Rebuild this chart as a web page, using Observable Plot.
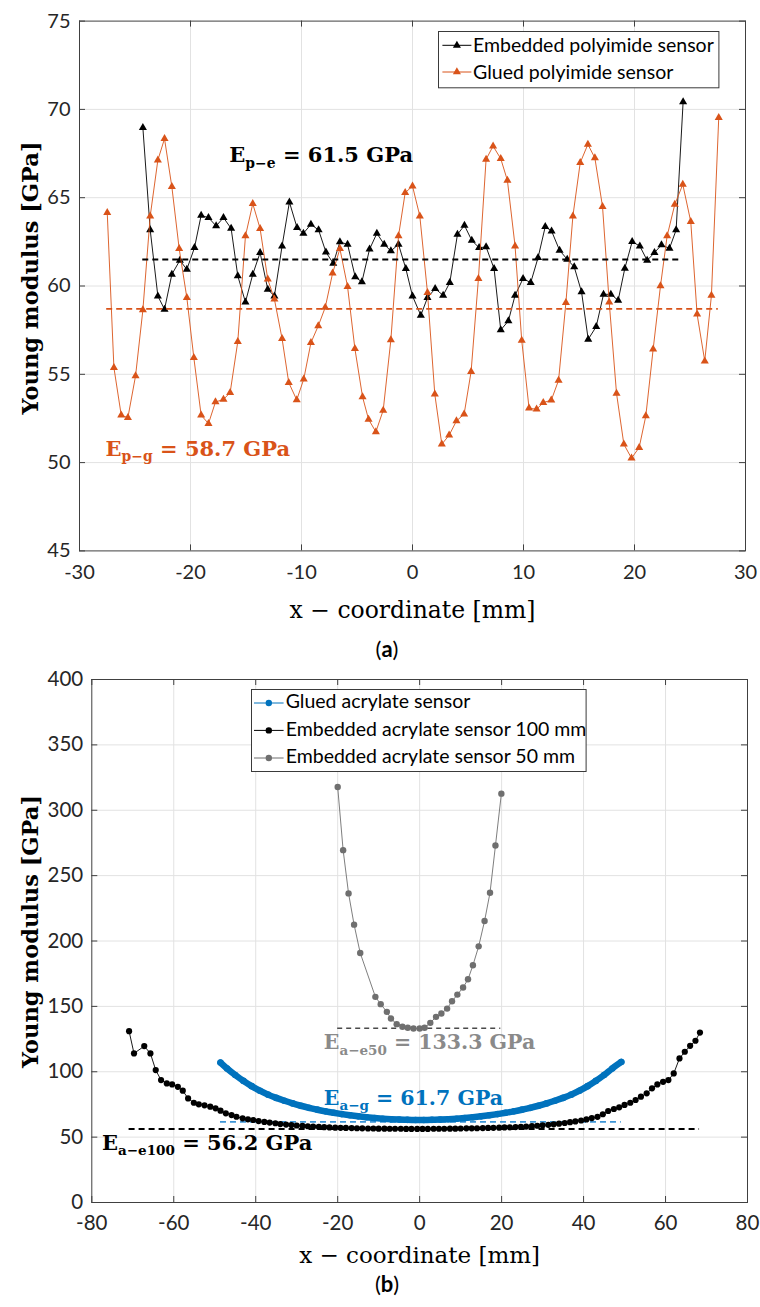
<!DOCTYPE html>
<html><head><meta charset="utf-8">
<script src="https://cdn.jsdelivr.net/npm/d3@7"></script>
<script src="https://cdn.jsdelivr.net/npm/@observablehq/plot@0.6"></script>
<style>
html,body{margin:0;padding:0;background:#fff;}
#root{position:relative;width:760px;height:1307px;overflow:hidden;background:#fff;}
#root > svg{position:absolute;left:0;}
.cap{position:absolute;font-family:Lato,sans-serif;font-size:22px;color:#000;transform:translate(-50%,-50%);white-space:nowrap;}
</style></head><body><div id="root"></div>
<script>
// ---------------- DATA ----------------
// Panel (a): x-coordinate [mm], Young modulus [GPa]
const xTicksA = [-30, -20, -10, 0, 10, 20, 30];
const yTicksA = [45, 50, 55, 60, 65, 70, 75];
const seriesNamesA = ["Embedded polyimide sensor", "Glued polyimide sensor"];
const embeddedPolyimide = [[-24.29,68.96],[-23.63,63.17],[-22.94,59.43],[-22.34,58.68],[-21.68,60.66],[-20.96,61.45],[-20.33,60.94],[-19.64,62.17],[-19.04,64.0],[-18.38,63.87],[-17.69,63.4],[-17.03,63.87],[-16.34,63.26],[-15.74,60.57],[-15.05,59.09],[-14.39,60.66],[-13.73,61.89],[-13.04,59.81],[-12.44,59.43],[-11.75,62.26],[-11.09,64.75],[-10.4,63.3],[-9.83,62.98],[-9.15,63.49],[-8.46,63.17],[-7.8,61.92],[-7.14,61.28],[-6.54,62.49],[-5.85,62.36],[-5.16,60.51],[-4.56,60.23],[-3.87,62.08],[-3.21,62.98],[-2.55,62.36],[-1.95,61.98],[-1.26,62.36],[-0.6,60.98],[0.0,59.43],[0.75,58.34],[1.35,59.34],[2.04,59.85],[2.76,59.47],[3.36,60.19],[4.05,62.92],[4.68,63.43],[5.34,62.58],[6.0,62.17],[6.63,62.21],[7.35,60.98],[7.95,57.51],[8.64,58.02],[9.24,59.47],[9.96,60.42],[10.65,60.19],[11.31,61.6],[11.96,63.36],[12.53,63.11],[13.25,62.02],[13.94,61.51],[14.57,61.08],[15.23,59.66],[15.83,56.98],[16.55,57.7],[17.21,59.53],[17.87,59.53],[18.53,59.19],[19.13,61.0],[19.79,62.51],[20.48,62.26],[21.14,61.45],[21.8,61.89],[22.43,62.32],[23.15,62.13],[23.75,63.17],[24.38,70.42]];
const gluedPolyimide = [[-27.5,64.15],[-26.9,55.38],[-26.24,52.68],[-25.64,52.55],[-24.95,54.91],[-24.29,58.64],[-23.63,63.96],[-22.94,67.13],[-22.34,68.34],[-21.68,65.62],[-21.02,62.11],[-20.33,59.34],[-19.7,55.94],[-19.04,52.68],[-18.38,52.21],[-17.75,53.43],[-17.03,53.58],[-16.43,53.96],[-15.74,56.85],[-15.05,62.83],[-14.39,64.66],[-13.73,63.25],[-13.04,60.38],[-12.44,59.25],[-11.75,57.02],[-11.15,54.53],[-10.43,53.55],[-9.8,54.72],[-9.15,56.79],[-8.49,57.74],[-7.86,58.79],[-7.2,60.72],[-6.54,62.11],[-5.85,59.96],[-5.19,56.45],[-4.5,53.72],[-3.96,52.45],[-3.3,51.74],[-2.64,52.96],[-1.95,56.94],[-1.26,62.83],[-0.66,65.28],[0.0,65.66],[0.66,63.96],[1.35,59.62],[2.01,53.87],[2.64,51.04],[3.3,51.55],[3.96,52.36],[4.65,52.74],[5.28,55.15],[5.94,60.42],[6.63,67.17],[7.26,67.92],[7.95,67.21],[8.55,65.98],[9.24,62.26],[9.84,56.92],[10.5,53.08],[11.18,53.02],[11.78,53.4],[12.5,53.53],[13.16,54.66],[13.82,59.06],[14.45,63.96],[15.11,66.98],[15.8,68.02],[16.43,67.25],[17.12,64.49],[17.72,59.09],[18.38,53.92],[19.04,51.04],[19.73,50.25],[20.42,50.85],[21.02,52.64],[21.68,56.42],[22.34,60.0],[22.94,62.83],[23.63,64.62],[24.35,65.75],[25.07,63.64],[25.64,58.4],[26.33,55.75],[26.93,59.47],[27.59,69.53]];
const meanValuesA = [61.5, 58.7];
const meanRangesA = [[-24.3, 24.0], [-27.55, 27.55]];
const annotationsA = [
  {base: "E", sub: "p\u2212e", rest: " = 61.5 GPa", x: -16.5, y: 67.0},
  {base: "E", sub: "p\u2212g", rest: " = 58.7 GPa", x: -27.65, y: 50.4}
];

// Panel (b)
const xTicksB = [-80, -60, -40, -20, 0, 20, 40, 60, 80];
const yTicksB = [0, 50, 100, 150, 200, 250, 300, 350, 400];
const seriesNamesB = ["Glued acrylate sensor", "Embedded acrylate sensor 100 mm", "Embedded acrylate sensor 50 mm"];
const gluedAcrylate = [[-48.6,107.0],[-47,102.5],[-45,97.5],[-43,93.0],[-41,89.0],[-39,85.5],[-37,82.5],[-35,80.0],[-33,77.8],[-31,75.8],[-29,74.0],[-27,72.4],[-25,71.0],[-23,69.7],[-21,68.6],[-19,67.6],[-17,66.7],[-15,65.9],[-13,65.2],[-11,64.6],[-9,64.1],[-7,63.7],[-5,63.4],[-3,63.2],[-1,63.1],[1,63.1],[3,63.2],[5,63.4],[7,63.7],[9,64.1],[11,64.6],[13,65.2],[15,65.9],[17,66.7],[19,67.6],[21,68.6],[23,69.7],[25,71.0],[27,72.4],[29,74.0],[31,75.8],[33,77.8],[35,80.0],[37,82.5],[39,85.5],[41,89.0],[43,93.0],[45,97.5],[47,102.5],[49.2,107.5]];
const embeddedAcrylate100 = [[-70.9,131.0],[-69.7,114.0],[-67.2,119.6],[-65.7,114.0],[-64.4,101.3],[-63.1,93.6],[-61.7,91.1],[-60.4,90.3],[-59.0,88.5],[-57.8,85.5],[-56.5,79.6],[-55.1,76.3],[-53.9,75.1],[-52.5,74.3],[-51.1,73.3],[-49.8,72.0],[-48.6,70.2],[-47.3,68.2],[-45.9,66.9],[-44.7,65.6],[-43.2,64.4],[-41.9,63.6],[-40.6,63.1],[-39.3,62.3],[-37.9,61.6],[-36.6,61.1],[-35.2,60.6],[-34.0,60.0],[-32.6,59.6],[-31.3,59.2],[-30.0,58.9],[-28.6,58.6],[-27.3,58.3],[-26.0,58.0],[-24.6,57.8],[-23.3,57.6],[-22.0,57.4],[-20.6,57.2],[-19.3,57.1],[-18.0,57.0],[-16.6,56.9],[-15.3,56.8],[-14.0,56.7],[-12.6,56.6],[-11.3,56.6],[-10.0,56.5],[-8.6,56.5],[-7.3,56.4],[-6.0,56.4],[-4.6,56.4],[-3.3,56.3],[-2.0,56.3],[-0.6,56.3],[0.7,56.3],[2.0,56.3],[3.4,56.4],[4.7,56.4],[6.0,56.4],[7.4,56.5],[8.7,56.5],[10.0,56.6],[11.4,56.7],[12.7,56.7],[14.0,56.8],[15.4,56.9],[16.7,57.0],[18.0,57.1],[19.4,57.2],[20.7,57.4],[22.0,57.5],[23.4,57.7],[24.7,57.9],[26.0,58.1],[27.4,58.4],[28.7,58.7],[30.0,59.0],[31.4,59.4],[32.7,59.8],[34.0,60.3],[35.4,60.8],[36.7,61.4],[38.0,62.0],[39.4,62.7],[40.7,63.5],[42.0,64.6],[43.4,65.5],[44.7,67.5],[46.0,70.0],[47.4,71.5],[48.7,72.8],[50.0,74.6],[51.4,76.3],[52.7,78.4],[54.0,80.9],[55.4,83.5],[56.7,87.3],[58.0,90.3],[59.4,92.3],[60.7,93.6],[62.0,98.7],[63.4,110.2],[64.7,115.3],[66.0,119.8],[67.3,123.7],[68.4,130.0]];
const embeddedAcrylate50 = [[-20.0,317.8],[-18.67,269.5],[-17.35,236.4],[-16.0,212.5],[-14.5,190.8],[-10.8,157.3],[-9.5,151.7],[-8.0,145.8],[-7.0,140.7],[-5.6,136.4],[-4.2,134.4],[-2.9,133.6],[-1.5,133.1],[0.0,133.1],[1.2,133.6],[2.6,137.4],[4.0,142.0],[5.3,144.5],[6.7,148.3],[7.9,153.9],[9.2,159.0],[10.6,164.4],[11.8,170.7],[13.0,181.4],[14.4,195.9],[15.84,215.3],[17.17,236.9],[18.5,273.0],[19.94,312.7]];
const meanValuesB = [61.7, 56.2, 133.3];
const meanRangesB = [[-48.6, 49.2], [-70.9, 68.3], [-20.0, 19.8]];
const annotationsB = [
  {base: "E", sub: "a\u2212g", rest: " = 61.7 GPa", x: -23.4, y: 74.6},
  {base: "E", sub: "a\u2212e100", rest: " = 56.2 GPa", x: -77.5, y: 40.2},
  {base: "E", sub: "a\u2212e50", rest: " = 133.3 GPa", x: -23.4, y: 117.3}
];
const yLabel = "Young modulus [GPa]";
const xLabel = "x \u2212 coordinate [mm]";
const captions = ["a", "b"];

// ---------------- STYLE ----------------
const ORANGE = "#D95319", BLUE = "#0072BD", GRAY = "#6f6f6f", BLACK = "#000000";
const AXIS = "#404040", GRID = "#e2e2e2", TICKTXT = "#262626";
const root = document.getElementById("root");
const X = d => d[0], Y = d => d[1];

function frameTicks(xt, yt, fw, fh) {
  const L = 6;
  return [
    Plot.ruleX(xt, {insetTop: fh - L, stroke: AXIS}),
    Plot.ruleX(xt, {insetBottom: fh - L, stroke: AXIS}),
    Plot.ruleY(yt, {insetRight: fw - L, stroke: AXIS}),
    Plot.ruleY(yt, {insetLeft: fw - L, stroke: AXIS})
  ];
}
function annotText(list, opts) {
  return Plot.text(list, {x: "x", y: "y", text: d => d.base + d.sub + d.rest, textAnchor: "start", lineAnchor: "bottom",
    fontFamily: "DejaVu Serif", fontWeight: "bold", ...opts});
}
function subscriptify(svg, list, fs) {
  const ns = "http://www.w3.org/2000/svg";
  const lookup = new Map(list.map(d => [d.base + d.sub + d.rest, d]));
  svg.querySelectorAll("text").forEach(t => {
    const d = lookup.get(t.textContent);
    if (!d) return;
    const size = d.fs || fs;
    t.textContent = "";
    const a = document.createElementNS(ns, "tspan"); a.textContent = d.base; t.appendChild(a);
    const b = document.createElementNS(ns, "tspan"); b.textContent = d.sub;
    b.setAttribute("font-size", (size * 0.66).toFixed(1)); b.setAttribute("dy", (size * 0.27).toFixed(1)); t.appendChild(b);
    const c = document.createElementNS(ns, "tspan"); c.textContent = d.rest;
    c.setAttribute("dy", (-size * 0.27).toFixed(1)); t.appendChild(c);
  });
}

// ---------------- PANEL A ----------------
{
  const W = 760, H = 665, mL = 79, mR = 15, mT = 20.6, mB = 114.6;
  const fw = W - mL - mR, fh = H - mT - mB;
  const svg = Plot.plot({
    width: W, height: H, marginLeft: mL, marginRight: mR, marginTop: mT, marginBottom: mB,
    style: {fontFamily: "Lato, sans-serif", fontSize: "20px", color: TICKTXT, background: "transparent", overflow: "visible"},
    x: {domain: [xTicksA[0], xTicksA[xTicksA.length - 1]], label: null},
    y: {domain: [yTicksA[0], yTicksA[yTicksA.length - 1]], label: null},
    marks: [
      Plot.ruleX(xTicksA.slice(1, -1), {stroke: GRID}),
      Plot.ruleY(yTicksA.slice(1, -1), {stroke: GRID}),
      Plot.line(embeddedPolyimide, {x: X, y: Y, stroke: BLACK, strokeWidth: 0.9}),
      Plot.dot(embeddedPolyimide, {x: X, y: Y, symbol: "triangle", r: 3.0, fill: BLACK, stroke: "none"}),
      Plot.line(gluedPolyimide, {x: X, y: Y, stroke: ORANGE, strokeWidth: 0.9}),
      Plot.dot(gluedPolyimide, {x: X, y: Y, symbol: "triangle", r: 3.0, fill: ORANGE, stroke: "none"}),
      Plot.ruleY([0], {y: () => meanValuesA[0], x1: () => meanRangesA[0][0], x2: () => meanRangesA[0][1], stroke: BLACK, strokeWidth: 1.8, strokeDasharray: "6,4"}),
      Plot.ruleY([0], {y: () => meanValuesA[1], x1: () => meanRangesA[1][0], x2: () => meanRangesA[1][1], stroke: ORANGE, strokeWidth: 1.8, strokeDasharray: "6,4"}),
      annotText([annotationsA[0]], {fill: BLACK, fontSize: 21}),
      annotText([annotationsA[1]], {fill: ORANGE, fontSize: 21}),
      Plot.frame({stroke: AXIS}),
      ...frameTicks(xTicksA, yTicksA, fw, fh),
      Plot.axisX({ticks: xTicksA, tickSize: 0, tickPadding: 14, tickFormat: d => String(d), label: null, fill: TICKTXT}),
      Plot.axisY({ticks: yTicksA, tickSize: 0, tickPadding: 9, tickFormat: d => String(d), label: null, fill: TICKTXT}),
      Plot.text([xLabel], {text: d => d, frameAnchor: "bottom", textAnchor: "middle", lineAnchor: "middle", dy: 59.6, fontFamily: "DejaVu Serif", fontSize: 23.5, fill: BLACK}),
      Plot.text([yLabel], {text: d => d, frameAnchor: "left", textAnchor: "middle", lineAnchor: "middle", rotate: -90, dx: -49, dy: -8, fontFamily: "DejaVu Serif", fontWeight: "bold", fontSize: 22.5, fill: BLACK})
    ]
  });
  svg.style.top = "0px";
  subscriptify(svg, annotationsA, 21);
  root.appendChild(svg);
}

// ---------------- PANEL B ----------------
{
  const W = 760, H = 642, mL = 91.3, mR = 13, mT = 14, mB = 105;
  const fw = W - mL - mR, fh = H - mT - mB;
  const svg = Plot.plot({
    width: W, height: H, marginLeft: mL, marginRight: mR, marginTop: mT, marginBottom: mB,
    style: {fontFamily: "Lato, sans-serif", fontSize: "20.5px", color: TICKTXT, background: "transparent", overflow: "visible"},
    x: {domain: [xTicksB[0], xTicksB[xTicksB.length - 1]], label: null},
    y: {domain: [yTicksB[0], yTicksB[yTicksB.length - 1]], label: null},
    marks: [
      Plot.ruleX(xTicksB.slice(1, -1), {stroke: GRID}),
      Plot.ruleY(yTicksB.slice(1, -1), {stroke: GRID}),
      Plot.ruleY([0], {y: () => meanValuesB[0], x1: () => meanRangesB[0][0], x2: () => meanRangesB[0][1], stroke: "#3d95d6", strokeWidth: 1.8, strokeDasharray: "6,4"}),
      Plot.line(gluedAcrylate, {x: X, y: Y, stroke: BLUE, strokeWidth: 6.5, strokeLinecap: "round", curve: "catmull-rom"}),
      Plot.dot(gluedAcrylate, {x: X, y: Y, r: 3.3, fill: BLUE, stroke: "none"}),
      Plot.ruleY([0], {y: () => meanValuesB[1], x1: () => meanRangesB[1][0], x2: () => meanRangesB[1][1], stroke: BLACK, strokeWidth: 1.8, strokeDasharray: "6,4"}),
      Plot.line(embeddedAcrylate100, {x: X, y: Y, stroke: BLACK, strokeWidth: 0.9}),
      Plot.dot(embeddedAcrylate100, {x: X, y: Y, r: 3.1, fill: BLACK, stroke: "none"}),
      Plot.ruleY([0], {y: () => meanValuesB[2], x1: () => meanRangesB[2][0], x2: () => meanRangesB[2][1], stroke: "#4a4a4a", strokeWidth: 1.6, strokeDasharray: "5,4"}),
      Plot.line(embeddedAcrylate50, {x: X, y: Y, stroke: GRAY, strokeWidth: 0.9}),
      Plot.dot(embeddedAcrylate50, {x: X, y: Y, r: 3.2, fill: GRAY, stroke: "none"}),
      annotText([annotationsB[0]], {fill: BLUE, fontSize: 20.5}),
      annotText([annotationsB[1]], {fill: BLACK, fontSize: 21}),
      annotText([annotationsB[2]], {fill: "#8a8a8a", fontSize: 20.5}),
      Plot.frame({stroke: AXIS}),
      ...frameTicks(xTicksB, yTicksB, fw, fh),
      Plot.axisX({ticks: xTicksB, tickSize: 0, tickPadding: 12.5, tickFormat: d => String(d), label: null, fill: TICKTXT}),
      Plot.axisY({ticks: yTicksB, tickSize: 0, tickPadding: 8.6, tickFormat: d => String(d), label: null, fill: TICKTXT}),
      Plot.text([xLabel], {text: d => d, frameAnchor: "bottom", textAnchor: "middle", lineAnchor: "middle", dy: 53, fontFamily: "DejaVu Serif", fontSize: 23, fill: BLACK}),
      Plot.text([yLabel], {text: d => d, frameAnchor: "left", textAnchor: "middle", lineAnchor: "middle", rotate: -90, dx: -61.3, dy: -9.5, fontFamily: "DejaVu Serif", fontWeight: "bold", fontSize: 22.5, fill: BLACK})
    ]
  });
  svg.style.top = "665px";
  subscriptify(svg, annotationsB.map((d, i) => d), 20.5);
  root.appendChild(svg);
}

// ---------------- LEGENDS ----------------
function makeLegend(cfg) {
  const svg = d3.create("svg").attr("width", cfg.w).attr("height", cfg.h)
    .style("position", "absolute").style("left", cfg.left + "px").style("top", cfg.top + "px").style("overflow", "visible");
  svg.append("rect").attr("x", 0.5).attr("y", 0.5).attr("width", cfg.w - 1).attr("height", cfg.h - 1)
    .attr("fill", "#fff").attr("stroke", "#3a3a3a").attr("stroke-width", 1);
  cfg.rows.forEach(r => {
    const g = svg.append("g");
    g.append("line").attr("x1", cfg.lx1).attr("x2", cfg.lx2).attr("y1", r.ly).attr("y2", r.ly).attr("stroke", r.color).attr("stroke-width", 1);
    const cx = (cfg.lx1 + cfg.lx2) / 2;
    if (r.symbol === "triangle") {
      g.append("path").attr("d", d3.symbol(d3.symbolTriangle, Math.PI * r.r * r.r)()).attr("transform", `translate(${cx},${r.ly})`).attr("fill", r.color);
    } else {
      g.append("circle").attr("cx", cx).attr("cy", r.ly).attr("r", r.r).attr("fill", r.color);
    }
    g.append("text").attr("x", cfg.tx).attr("y", r.by).text(r.label)
      .attr("font-family", "Lato, sans-serif").attr("font-size", cfg.fs).attr("fill", "#000");
  });
  root.appendChild(svg.node());
}
makeLegend({left: 437.6, top: 30.7, w: 281.4, h: 57.3, lx1: 4.4, lx2: 33.4, tx: 35, fs: 19.5, rows: [
  {label: seriesNamesA[0], color: BLACK, symbol: "triangle", r: 3.0, ly: 14.3, by: 21},
  {label: seriesNamesA[1], color: ORANGE, symbol: "triangle", r: 3.0, ly: 41, by: 47.6}
]});
makeLegend({left: 251, top: 689.3, w: 335.6, h: 83, lx1: 3, lx2: 32.6, tx: 34.7, fs: 19.5, rows: [
  {label: seriesNamesB[0], color: BLUE, symbol: "circle", r: 3.2, ly: 14, by: 19},
  {label: seriesNamesB[1], color: BLACK, symbol: "circle", r: 3.2, ly: 41.4, by: 46.7},
  {label: seriesNamesB[2], color: GRAY, symbol: "circle", r: 3.2, ly: 69, by: 74}
]});

// ---------------- CAPTIONS ----------------
[[648, captions[0]], [1283, captions[1]]].forEach(([top, c]) => {
  const d = document.createElement("div");
  d.className = "cap";
  d.style.left = "387px"; d.style.top = top + "px";
  d.innerHTML = "(<b>" + c + "</b>)";
  root.appendChild(d);
});
</script></body></html>
